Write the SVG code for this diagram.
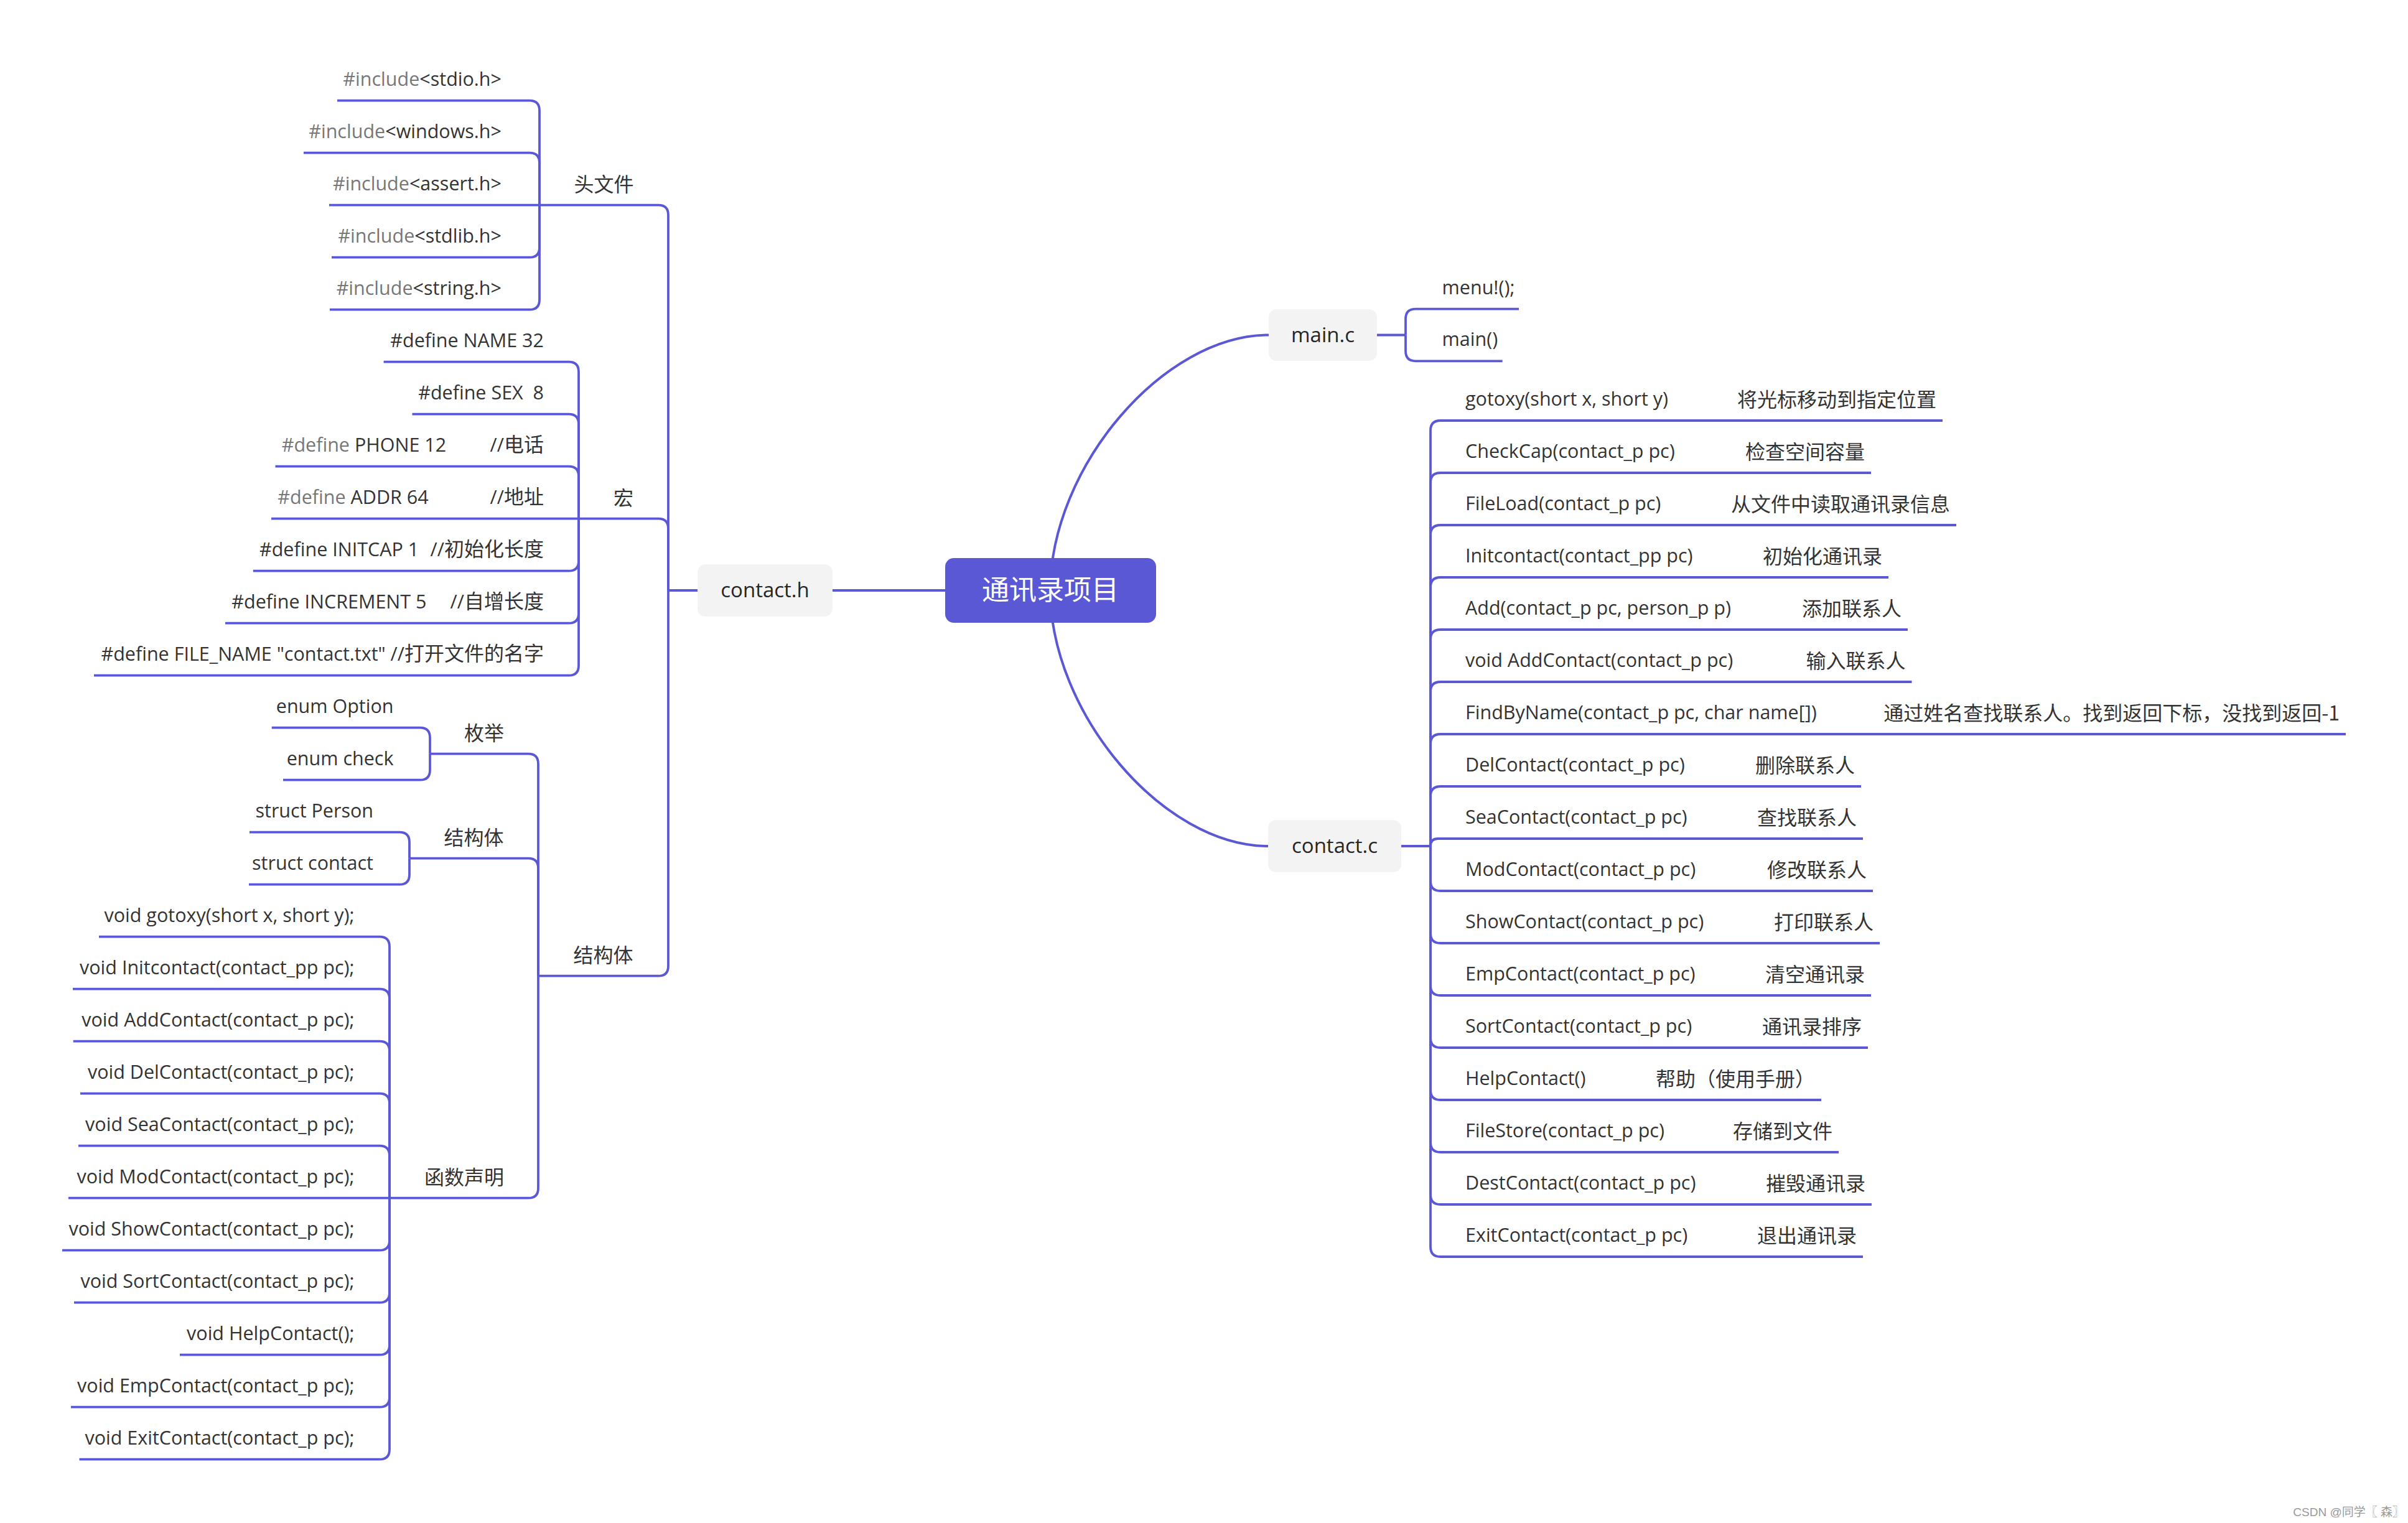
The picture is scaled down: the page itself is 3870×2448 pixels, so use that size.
<svg xmlns="http://www.w3.org/2000/svg" width="3870" height="2448" viewBox="0 0 3870 2448">
<style>
.ln{fill:none;stroke:#5B58D6;stroke-width:3.8}
.rc{fill:none;stroke:#5B58D6;stroke-width:4}
.t{font-family:"Open Sans","Noto Sans CJK SC",sans-serif;font-size:30.5px;fill:#333;white-space:pre}
.c{font-family:"Noto Sans CJK SC",sans-serif;font-size:32px;fill:#333}
.cj{font-family:"Noto Sans CJK SC",sans-serif;font-size:32px}
.g{fill:#777}
.e{text-anchor:end}
.m{text-anchor:middle}
.nd{fill:#F3F3F3}
.nt{font-family:"Open Sans",sans-serif;font-size:33px;fill:#262626;text-anchor:middle}
</style>
<rect width="3870" height="2448" fill="#fff"/>
<g id="connectors">
<path class="rc" d="M1688,949 C1688,752 1869,538.5 2039,538.5"/>
<path class="rc" d="M1688,949 C1688,1146 1869,1360 2038,1360"/>
<path class="ln" d="M1519,949 H1338"/>
<path class="ln" d="M1121,949 H1074"/>
<path class="ln" d="M1074,949 V345.7 Q1074,329.7 1058,329.7 H867"/>
<path class="ln" d="M1074,949 V849.7 Q1074,833.7 1058,833.7 H930"/>
<path class="ln" d="M1074,949 V1552.7 Q1074,1568.7 1058,1568.7 H865"/>
<path class="ln" d="M867,329.7 V177.7 Q867,161.7 851,161.7 H542"/>
<path class="ln" d="M867,329.7 V261.7 Q867,245.7 851,245.7 H488"/>
<path class="ln" d="M867,329.7 H529"/>
<path class="ln" d="M867,329.7 V397.7 Q867,413.7 851,413.7 H533"/>
<path class="ln" d="M867,329.7 V481.7 Q867,497.7 851,497.7 H530"/>
<path class="ln" d="M930,833.7 V597.7 Q930,581.7 914,581.7 H616.6"/>
<path class="ln" d="M930,833.7 V681.7 Q930,665.7 914,665.7 H662.5"/>
<path class="ln" d="M930,833.7 V765.7 Q930,749.7 914,749.7 H442.5"/>
<path class="ln" d="M930,833.7 H436"/>
<path class="ln" d="M930,833.7 V901.7 Q930,917.7 914,917.7 H406.8"/>
<path class="ln" d="M930,833.7 V985.7 Q930,1001.7 914,1001.7 H362"/>
<path class="ln" d="M930,833.7 V1069.7 Q930,1085.7 914,1085.7 H151"/>
<path class="ln" d="M865,1568.7 V1227.7 Q865,1211.7 849,1211.7 H691"/>
<path class="ln" d="M865,1568.7 V1395.7 Q865,1379.7 849,1379.7 H658"/>
<path class="ln" d="M865,1568.7 V1909.7 Q865,1925.7 849,1925.7 H626"/>
<path class="ln" d="M691,1211.7 V1185.7 Q691,1169.7 675,1169.7 H436.7"/>
<path class="ln" d="M691,1211.7 V1237.7 Q691,1253.7 675,1253.7 H455"/>
<path class="ln" d="M658,1379.7 V1353.7 Q658,1337.7 642,1337.7 H401"/>
<path class="ln" d="M658,1379.7 V1405.7 Q658,1421.7 642,1421.7 H400"/>
<path class="ln" d="M626,1925.7 V1521.7 Q626,1505.7 610,1505.7 H159"/>
<path class="ln" d="M626,1925.7 V1605.7 Q626,1589.7 610,1589.7 H117"/>
<path class="ln" d="M626,1925.7 V1689.7 Q626,1673.7 610,1673.7 H117.7"/>
<path class="ln" d="M626,1925.7 V1773.7 Q626,1757.7 610,1757.7 H129"/>
<path class="ln" d="M626,1925.7 V1857.7 Q626,1841.7 610,1841.7 H126"/>
<path class="ln" d="M626,1925.7 H110"/>
<path class="ln" d="M626,1925.7 V1993.7 Q626,2009.7 610,2009.7 H100"/>
<path class="ln" d="M626,1925.7 V2077.7 Q626,2093.7 610,2093.7 H119"/>
<path class="ln" d="M626,1925.7 V2161.7 Q626,2177.7 610,2177.7 H289"/>
<path class="ln" d="M626,1925.7 V2245.7 Q626,2261.7 610,2261.7 H114"/>
<path class="ln" d="M626,1925.7 V2329.7 Q626,2345.7 610,2345.7 H127.5"/>
<path class="ln" d="M2213,538.5 H2259"/>
<path class="ln" d="M2259,538.5 V512.7 Q2259,496.7 2275,496.7 H2441"/>
<path class="ln" d="M2259,538.5 V564.3 Q2259,580.3 2275,580.3 H2414.6"/>
<path class="ln" d="M2252,1360 H2299"/>
<path class="ln" d="M2299,1360 V692 Q2299,676 2315,676 H3122"/>
<path class="ln" d="M2299,1360 V776 Q2299,760 2315,760 H3007"/>
<path class="ln" d="M2299,1360 V860 Q2299,844 2315,844 H3144"/>
<path class="ln" d="M2299,1360 V944 Q2299,928 2315,928 H3035"/>
<path class="ln" d="M2299,1360 V1028 Q2299,1012 2315,1012 H3066"/>
<path class="ln" d="M2299,1360 V1112 Q2299,1096 2315,1096 H3072.5"/>
<path class="ln" d="M2299,1360 V1196 Q2299,1180 2315,1180 H3770"/>
<path class="ln" d="M2299,1360 V1280 Q2299,1264 2315,1264 H2991"/>
<path class="ln" d="M2299,1360 Q2299,1348 2311,1348 H2994"/>
<path class="ln" d="M2299,1360 V1416 Q2299,1432 2315,1432 H3010"/>
<path class="ln" d="M2299,1360 V1500 Q2299,1516 2315,1516 H3021"/>
<path class="ln" d="M2299,1360 V1584 Q2299,1600 2315,1600 H3007"/>
<path class="ln" d="M2299,1360 V1668 Q2299,1684 2315,1684 H3002"/>
<path class="ln" d="M2299,1360 V1752 Q2299,1768 2315,1768 H2927"/>
<path class="ln" d="M2299,1360 V1836 Q2299,1852 2315,1852 H2955"/>
<path class="ln" d="M2299,1360 V1920 Q2299,1936 2315,1936 H3008"/>
<path class="ln" d="M2299,1360 V2004 Q2299,2020 2315,2020 H2994"/>
</g>
<g id="root"><rect x="1519" y="897" width="339" height="104" rx="14" fill="#5B58D6"/><text x="1688" y="964" font-family="Noto Sans CJK SC,sans-serif" font-size="44" fill="#fff" text-anchor="middle">通讯录项目</text></g>
<g id="contact_h"><rect class="nd" x="1121" y="907" width="217" height="84" rx="13"/><text class="nt" x="1229.5" y="960">contact.h</text></g>
<g id="main_c"><rect class="nd" x="2039" y="497" width="174" height="83" rx="13"/><text class="nt" x="2126" y="550">main.c</text></g>
<g id="contact_c"><rect class="nd" x="2038" y="1318" width="214" height="84" rx="13"/><text class="nt" x="2145" y="1371">contact.c</text></g>
<g id="headers"><text class="c m" x="970.5" y="307.7">头文件</text></g>
<g id="inc1"><text class="t e" x="806" y="137.7"><tspan class="g">#include</tspan>&lt;stdio.h&gt;</text></g>
<g id="inc2"><text class="t e" x="806" y="221.7"><tspan class="g">#include</tspan>&lt;windows.h&gt;</text></g>
<g id="inc3"><text class="t e" x="806" y="305.7"><tspan class="g">#include</tspan>&lt;assert.h&gt;</text></g>
<g id="inc4"><text class="t e" x="806" y="389.7"><tspan class="g">#include</tspan>&lt;stdlib.h&gt;</text></g>
<g id="inc5"><text class="t e" x="806" y="473.7"><tspan class="g">#include</tspan>&lt;string.h&gt;</text></g>
<g id="macro"><text class="c m" x="1002" y="811.7">宏</text></g>
<g id="def1"><text class="t e" x="874" y="557.7">#define NAME 32</text></g>
<g id="def2"><text class="t e" x="874" y="641.7">#define SEX  8</text></g>
<g id="def3"><text class="t" x="452.7" y="725.7"><tspan class="g">#define</tspan> PHONE 12</text><text class="t e" x="874" y="725.7">//<tspan class="cj">电话</tspan></text></g>
<g id="def4"><text class="t" x="446.3" y="809.7"><tspan class="g">#define</tspan> ADDR 64</text><text class="t e" x="874" y="809.7">//<tspan class="cj">地址</tspan></text></g>
<g id="def5"><text class="t" x="417" y="893.7">#define INITCAP 1</text><text class="t e" x="874" y="893.7">//<tspan class="cj">初始化长度</tspan></text></g>
<g id="def6"><text class="t" x="372.3" y="977.7">#define INCREMENT 5</text><text class="t e" x="874" y="977.7">//<tspan class="cj">自增长度</tspan></text></g>
<g id="def7"><text class="t e" x="874" y="1061.7">#define FILE_NAME "contact.txt" //<tspan class="cj">打开文件的名字</tspan></text></g>
<g id="struct1"><text class="c m" x="969.5" y="1546.7">结构体</text></g>
<g id="enum"><text class="c m" x="778" y="1189.7">枚举</text></g>
<g id="enum1"><text class="t e" x="632.5" y="1145.7">enum Option</text></g>
<g id="enum2"><text class="t e" x="632.5" y="1229.7">enum check</text></g>
<g id="struct2"><text class="c m" x="761.5" y="1357.7">结构体</text></g>
<g id="st1"><text class="t e" x="600" y="1313.7">struct Person</text></g>
<g id="st2"><text class="t e" x="600" y="1397.7">struct contact</text></g>
<g id="funcdecl"><text class="c m" x="746" y="1903.7">函数声明</text></g>
<g id="fd1"><text class="t e" x="569.5" y="1481.7">void gotoxy(short x, short y);</text></g>
<g id="fd2"><text class="t e" x="569.5" y="1565.7">void Initcontact(contact_pp pc);</text></g>
<g id="fd3"><text class="t e" x="569.5" y="1649.7">void AddContact(contact_p pc);</text></g>
<g id="fd4"><text class="t e" x="569.5" y="1733.7">void DelContact(contact_p pc);</text></g>
<g id="fd5"><text class="t e" x="569.5" y="1817.7">void SeaContact(contact_p pc);</text></g>
<g id="fd6"><text class="t e" x="569.5" y="1901.7">void ModContact(contact_p pc);</text></g>
<g id="fd7"><text class="t e" x="569.5" y="1985.7">void ShowContact(contact_p pc);</text></g>
<g id="fd8"><text class="t e" x="569.5" y="2069.7">void SortContact(contact_p pc);</text></g>
<g id="fd9"><text class="t e" x="569.5" y="2153.7">void HelpContact();</text></g>
<g id="fd10"><text class="t e" x="569.5" y="2237.7">void EmpContact(contact_p pc);</text></g>
<g id="fd11"><text class="t e" x="569.5" y="2321.7">void ExitContact(contact_p pc);</text></g>
<g id="m1"><text class="t" x="2317.6" y="472.7">menu!();</text></g>
<g id="m2"><text class="t" x="2317.6" y="556.3">main()</text></g>
<g id="c0"><text class="t" x="2355" y="652">gotoxy(short x, short y)</text><text class="c e" x="3112" y="654">将光标移动到指定位置</text></g>
<g id="c1"><text class="t" x="2355" y="736">CheckCap(contact_p pc)</text><text class="c e" x="2997" y="738">检查空间容量</text></g>
<g id="c2"><text class="t" x="2355" y="820">FileLoad(contact_p pc)</text><text class="c e" x="3134" y="822">从文件中读取通讯录信息</text></g>
<g id="c3"><text class="t" x="2355" y="904">Initcontact(contact_pp pc)</text><text class="c e" x="3025" y="906">初始化通讯录</text></g>
<g id="c4"><text class="t" x="2355" y="988">Add(contact_p pc, person_p p)</text><text class="c e" x="3056" y="990">添加联系人</text></g>
<g id="c5"><text class="t" x="2355" y="1072">void AddContact(contact_p pc)</text><text class="c e" x="3062.5" y="1074">输入联系人</text></g>
<g id="c6"><text class="t" x="2355" y="1156">FindByName(contact_p pc, char name[])</text><text class="c e" x="3760" y="1158">通过姓名查找联系人。找到返回下标，没找到返回-1</text></g>
<g id="c7"><text class="t" x="2355" y="1240">DelContact(contact_p pc)</text><text class="c e" x="2981" y="1242">删除联系人</text></g>
<g id="c8"><text class="t" x="2355" y="1324">SeaContact(contact_p pc)</text><text class="c e" x="2984" y="1326">查找联系人</text></g>
<g id="c9"><text class="t" x="2355" y="1408">ModContact(contact_p pc)</text><text class="c e" x="3000" y="1410">修改联系人</text></g>
<g id="c10"><text class="t" x="2355" y="1492">ShowContact(contact_p pc)</text><text class="c e" x="3011" y="1494">打印联系人</text></g>
<g id="c11"><text class="t" x="2355" y="1576">EmpContact(contact_p pc)</text><text class="c e" x="2997" y="1578">清空通讯录</text></g>
<g id="c12"><text class="t" x="2355" y="1660">SortContact(contact_p pc)</text><text class="c e" x="2992" y="1662">通讯录排序</text></g>
<g id="c13"><text class="t" x="2355" y="1744">HelpContact()</text><text class="c e" x="2917" y="1746">帮助（使用手册）</text></g>
<g id="c14"><text class="t" x="2355" y="1828">FileStore(contact_p pc)</text><text class="c e" x="2945" y="1830">存储到文件</text></g>
<g id="c15"><text class="t" x="2355" y="1912">DestContact(contact_p pc)</text><text class="c e" x="2998" y="1914">摧毁通讯录</text></g>
<g id="c16"><text class="t" x="2355" y="1996">ExitContact(contact_p pc)</text><text class="c e" x="2984" y="1998">退出通讯录</text></g>
<g id="watermark"><text x="3864" y="2437" font-family="Liberation Sans,Noto Sans CJK SC,sans-serif" font-size="19" fill="#999" text-anchor="end">CSDN @同学〖 森〗</text></g>
</svg>
